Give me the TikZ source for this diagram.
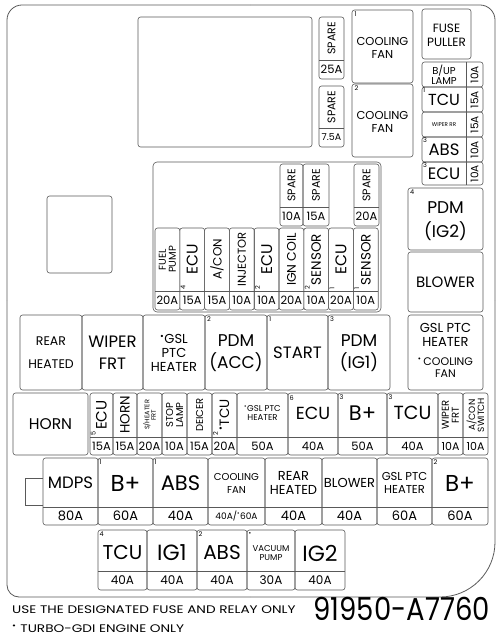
\documentclass[tikz,border=0pt]{standalone}
\usepackage{fontspec}
\setmainfont{Poppins}
\newcommand{\fs}[2]{\fontsize{#1}{#2}\selectfont}
\newcommand{\tg}{\textsuperscript{\textbullet}}
\tikzset{
  case/.style={draw=black!65, line width=0.8pt},
  box/.style={draw=black!65, line width=0.6pt, rounded corners=2.5pt},
  div/.style={draw=black!65, line width=0.5pt},
  lab/.style={align=center, inner sep=0pt},
  vlab/.style={lab, rotate=90},
  amp/.style={inner sep=0pt, font=\fs{11.5}{12}},
  num/.style={inner sep=0pt, font=\fs{6.5}{7}},
}

\begin{document}
\begin{tikzpicture}[x=1pt, y=-1pt]
\useasboundingbox (0,0) rectangle (500,639);
% case
\draw[case, rounded corners=15pt] (7,300) -- (7,5) -- (250,5);
\draw[case, rounded corners=15pt] (250,5) -- (495,5) -- (495,300);
\draw[case, rounded corners=55pt] (495,300) -- (495,597) -- (250,597);
\draw[case, rounded corners=12pt] (250,597) -- (7,597) -- (7,300);
\draw[box] (138,17) rectangle (312,147);
\draw[box] (47,196) rectangle (112,273);

% top spares and cooling fan relays
\draw[box] (319,17) rectangle (344,79); \draw[div] (319,60) -- (344,60);
\node[vlab, font=\fs{11}{11}] (spare1) at (331.5,38.5) {SPARE};
\node[amp] (spare1a) at (331.5,69.5) {25A};
\draw[box] (319,86) rectangle (344,147); \draw[div] (319,128) -- (344,128);
\node[vlab, font=\fs{11}{11}] (spare2) at (331.5,107) {SPARE};
\node[amp, font=\fs{9.5}{10}] (spare2a) at (331.5,137.5) {7.5A};
\draw[box] (352,10) rectangle (413,83);
\node[num, anchor=north west] (cf1n) at (354.5,12) {1};
\node[lab, font=\fs{11.5}{13}] (cf1) at (382.5,48) {COOLING\\FAN};
\draw[box] (352,84) rectangle (413,157);
\node[num, anchor=north west] (cf2n) at (354.5,86) {2};
\node[lab, font=\fs{11.5}{13}] (cf2) at (382.5,122) {COOLING\\FAN};
\draw[box] (422,9) rectangle (471,59);
\node[lab, font=\fs{12}{14}] (puller) at (446.5,35) {FUSE\\PULLER};

% right column fuses
\foreach \ya/\yb/\lab/\sz/\bs/\amp/\no [count=\i] in {62/87/{B/UP\\LAMP}/10/10.5/10A/{}, 87/112/TCU/16/16/15A/1, 112/137/{WIPER RR}/5.5/6/15A/{}, 137/162/ABS/16.5/17/10A/3, 162/185/ECU/16.5/17/10A/3}
{
  \pgfmathsetmacro{\ym}{(\ya+\yb)/2}
  \draw[box] (422,\ya) rectangle (483,\yb);
  \draw[div] (466,\ya) -- (466,\yb);
  \node[lab, font=\fs{\sz}{\bs}] (rc\i) at (444,\ym+0.5) {\lab};
  \node[amp, rotate=90, font=\fs{10.5}{11}] (rca\i) at (474.5,\ym) {\amp};
  \node[num, anchor=north west] (rcn\i) at (423,\ya+1) {\no};
}

% fuse block
\draw[box, rounded corners=4pt] (153,162) rectangle (381,312);
\foreach \xa/\xb/\amp [count=\i] in {280/303/10A, 303/329/15A, 354/379/20A}
{
  \pgfmathsetmacro{\xm}{(\xa+\xb)/2}
  \draw[box] (\xa,164) rectangle (\xb,226);
  \draw[div] (\xa,207) -- (\xb,207);
  \node[vlab, font=\fs{11}{11}] (sp\i) at (\xm,185.5) {SPARE};
  \node[amp] (spa\i) at (\xm,216.5) {\amp};
}
\foreach \lab/\sz/\amp/\no [count=\i from 0] in {{FUEL\\PUMP}/10/20A/{}, ECU/15.5/15A/4, {A/CON}/12/15A/{}, INJECTOR/11.5/10A/{}, ECU/15.5/10A/2, {IGN COIL}/12.5/20A/{}, SENSOR/13.5/10A/2, ECU/15.5/20A/1, SENSOR/13.5/10A/1}
{
  \pgfmathsetmacro{\xa}{155+\i*24.8}
  \pgfmathsetmacro{\xb}{\xa+24.8}
  \pgfmathsetmacro{\xm}{\xa+12.4}
  \draw[box] (\xa,228) rectangle (\xb,310);
  \draw[div] (\xa,291) -- (\xb,291);
  \node[vlab, font=\fs{\sz}{\sz}] (mf\i) at (\xm,259.5) {\lab};
  \node[amp] (mfa\i) at (\xm,300.5) {\amp};
  \node[num, rotate=90, anchor=north west] (mfn\i) at (\xa+0.8,290) {\no};
}

% relays right
\draw[box] (408,188) rectangle (483,250);
\node[num, anchor=north west] (ig2n) at (410,190) {4};
\node[lab, font=\fs{17}{24}] (ig2r) at (445.5,221) {PDM\\(IG2)};
\draw[box] (408,252) rectangle (483,312);
\node[lab, font=\fs{15}{15}] (blowr) at (445.5,282) {BLOWER};

% relay row
\foreach \xa/\xb/\lab/\sz/\bs/\no [count=\i] in {20/82/{REAR\\HEATED}/12.5/23/{}, 82/143/{WIPER\\FRT}/16.5/22/{}, 143/205/{\tg GSL\\PTC\\HEATER}/13/14/{}, 205/267/{PDM\\(ACC)}/17/22/2, 267/328/START/16.5/17/1, 328/390/{PDM\\(IG1)}/17/22/3}
{
  \pgfmathsetmacro{\xm}{(\xa+\xb)/2}
  \draw[box] (\xa,315) rectangle (\xb,390);
  \node[lab, font=\fs{\sz}{\bs}] (rl\i) at (\xm,353) {\lab};
  \node[num, anchor=north west] (rln\i) at (\xa+2,317) {\no};
}
\draw[box] (408,315) rectangle (483,390);
\node[lab, font=\fs{13}{13.5}] (gslr) at (445.5,335) {GSL PTC\\HEATER};
\node[lab, font=\fs{11}{12}] (cfr) at (445.5,368) {\tg\,COOLING\\FAN};

% row with horn
\draw[box] (13,393) rectangle (88,455);
\node[lab, font=\fs{15.5}{15.5}] (horn) at (50.5,424) {HORN};
\foreach \xa/\xb/\lab/\sz/\amp/\no [count=\i] in {90/113/ECU/15/15A/5, 113/137/HORN/13.5/15A/{}, 137/162/{S/HEATER\\FRT}/6.5/20A/{}, 162/187/{STOP\\LAMP}/10/10A/{}, 187/212/DEICER/10/15A/{}, 212/237/{\tg TCU}/13.5/20A/2}
{
  \pgfmathsetmacro{\xm}{(\xa+\xb)/2}
  \draw[box] (\xa,393) rectangle (\xb,455);
  \draw[div] (\xa,437) -- (\xb,437);
  \node[vlab, font=\fs{\sz}{\sz}] (hf\i) at (\xm,415) {\lab};
  \node[amp] (hfa\i) at (\xm,446) {\amp};
  \node[num, rotate=90, anchor=north west] (hfn\i) at (\xa+0.8,436) {\no};
}
\foreach \xa/\xb/\lab/\sz/\bs/\amp/\no [count=\i] in {237/288/{\tg GSL PTC\\HEATER}/8.5/9.5/50A/{}, 288/338/ECU/17.5/17/40A/6, 338/387/B+/21/21/50A/3, 387/438/TCU/19/19/40A/3}
{
  \pgfmathsetmacro{\xm}{(\xa+\xb)/2}
  \draw[box] (\xa,393) rectangle (\xb,455);
  \draw[div] (\xa,437) -- (\xb,437);
  \node[lab, font=\fs{\sz}{\bs}] (bf\i) at (\xm,413) {\lab};
  \node[amp] (bfa\i) at (\xm,446) {\amp};
  \node[num, anchor=north west] (bfn\i) at (\xa+1.5,395) {\no};
}
\foreach \xa/\xb/\lab/\sz [count=\i] in {438/463/{WIPER\\FRT}/10, 463/488/{A/CON\\SWITCH}/9}
{
  \pgfmathsetmacro{\xm}{(\xa+\xb)/2}
  \draw[box] (\xa,393) rectangle (\xb,455);
  \draw[div] (\xa,437) -- (\xb,437);
  \node[vlab, font=\fs{\sz}{\sz}] (sf\i) at (\xm,415) {\lab};
  \node[amp, font=\fs{11}{11}] (sfa\i) at (\xm,446) {10A};
}

% row with mdps
\draw[div] (43,478) -- (25,478) -- (25,505) -- (43,505);
\foreach \xa/\xb/\lab/\sz/\bs/\amp/\no [count=\i] in {43/98/MDPS/16.5/16/80A/{}, 98/153/B+/23/23/60A/1, 153/208/ABS/21/21/40A/1, 208/265/{COOLING\\FAN}/10/13/{\fs{9}{9}40A/\tg60A}/{}, 265/322/{REAR\\HEATED}/13/14/40A/{}, 322/377/BLOWER/13/13/40A/{}, 377/432/{GSL PTC\\HEATER}/11.5/13.5/60A/{}, 432/488/B+/23/23/60A/2}
{
  \pgfmathsetmacro{\xm}{(\xa+\xb)/2}
  \draw[box] (\xa,458) rectangle (\xb,525);
  \draw[div] (\xa,507) -- (\xb,507);
  \node[lab, font=\fs{\sz}{\bs}] (mp\i) at (\xm,483) {\lab};
  \node[amp, font=\fs{13}{13}] (mpa\i) at (\xm,516) {\amp};
  \node[num, anchor=north west] (mpn\i) at (\xa+1.5,460) {\no};
}

% bottom row
\foreach \xa/\xb/\lab/\sz/\no [count=\i] in {98/147/TCU/20/4, 147/197/IG1/22/{}, 197/247/ABS/20/2, 247/295/{\fs{8.5}{9}VACUUM\\PUMP}/8.5/\textbullet, 295/345/IG2/22/{}}
{
  \pgfmathsetmacro{\xm}{(\xa+\xb)/2}
  \draw[box] (\xa,530) rectangle (\xb,590);
  \draw[div] (\xa,571) -- (\xb,571);
  \node[lab, font=\fs{\sz}{\sz}] (bt\i) at (\xm,553) {\lab};
  \node[amp, font=\fs{12}{12}] (bta\i) at (\xm,580.5) {\ifnum\i=4 30A\else 40A\fi};
  \node[num, anchor=north west] (btn\i) at (\xa+1.5,532) {\no};
}

% notes
\node[inner sep=0pt, anchor=base west, font=\fs{11}{11}] (note1) at (12,613) {\scalebox{1.24}[1]{USE THE DESIGNATED FUSE AND RELAY ONLY}};
\node[inner sep=0pt, anchor=base west, font=\fs{11}{11}] (note2) at (12,632) {\scalebox{1.24}[1]{\tg\ TURBO-GDI ENGINE ONLY}};
\node[inner sep=0pt, anchor=base east, font=\fs{27.5}{28}] (partno) at (490,620) {\scalebox{1}[1.15]{91950-A7760}};
\end{tikzpicture}
\end{document}
